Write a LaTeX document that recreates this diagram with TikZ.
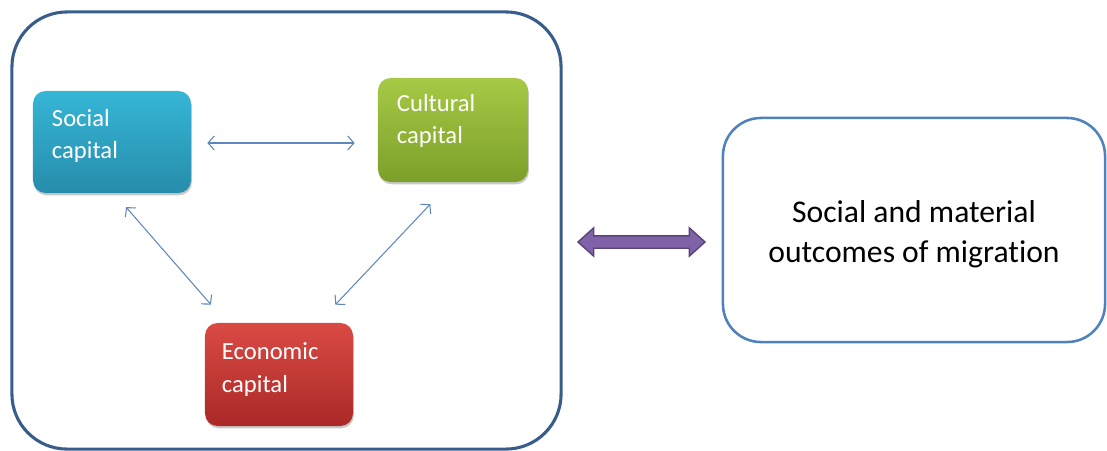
\documentclass[tikz,border=0pt]{standalone}
\usepackage{fontspec}
\setmainfont[Ligatures=NoCommon]{Carlito}
\usetikzlibrary{calc,shadows,shapes.arrows,arrows.meta}
\definecolor{framecol}{HTML}{385D8A}
\definecolor{outcol}{HTML}{4F81BD}
\definecolor{linkcol}{HTML}{5E87BB}
\definecolor{purplefill}{HTML}{7F62A8}
\definecolor{purpleline}{HTML}{5A4478}
\definecolor{socialtop}{HTML}{36B6D6}
\definecolor{socialbot}{HTML}{278CAB}
\definecolor{culturetop}{HTML}{A6C946}
\definecolor{culturebot}{HTML}{7C9F2A}
\definecolor{econtop}{HTML}{DA4A44}
\definecolor{econbot}{HTML}{AA2927}
\tikzset{
  capbox/.style={rounded corners=9pt,inner sep=0pt,
    drop shadow={shadow xshift=0.6pt,shadow yshift=-1.6pt,opacity=0.3,fill=black!70}},
  captext/.style={anchor=north west,inner sep=0pt,align=left,text=white,
    font=\fontsize{17.5}{23}\selectfont},
  link/.style={draw=linkcol,line width=0.75pt,
    {Straight Barb[length=4.5pt,width=10pt]}-{Straight Barb[length=4.5pt,width=10pt]}}
}

\begin{document}
\begin{tikzpicture}[x=0.025cm,y=-0.025cm]
      \useasboundingbox (0,0) rectangle (1107,450);

      \node[draw=framecol,line width=2.2pt,rounded corners=1.375cm,
        minimum width=13.725cm,minimum height=10.925cm] (frame) at (286.5,230.5) {};

      \node[capbox,top color=socialtop,bottom color=socialbot,
        minimum width=3.95cm,minimum height=2.55cm] (social) at (112,142) {};
      \node[capbox,top color=culturetop,bottom color=culturebot,
        minimum width=3.75cm,minimum height=2.6cm] (cultural) at (453,130) {};
      \node[capbox,top color=econtop,bottom color=econbot,
        minimum width=3.7cm,minimum height=2.575cm] (economic) at (279,374.5) {};

      \node[captext] (social-t) at ($(social.north west)+(19,18)$) {Social\\capital};
      \node[captext] (cultural-t) at ($(cultural.north west)+(19,16)$) {Cultural\\capital};
      \node[captext] (economic-t) at ($(economic.north west)+(17,20)$) {Economic\\capital};

      \draw[link,shorten <=0.4cm,shorten >=0.575cm] (social.east |- 0,143) -- (cultural.west |- 0,143);
      \draw[link,shorten <=0.46cm,shorten >=0.6cm] ($(social.south)+(2,0)$) -- ($(economic.north west)+(22,0)$);
      \draw[link,shorten <=0.75cm,shorten >=0.62cm] ($(cultural.south)+(-2,0)$) -- ($(economic.north east)+(-35,0)$);

      \node[draw=outcol,line width=1.8pt,rounded corners=0.95cm,
        minimum width=9.55cm,minimum height=5.6cm,align=center,
        font=\fontsize{22.5}{28.5}\selectfont] (outcome) at (914,230)
        {\rule{0pt}{21pt}Social and material\\outcomes of migration};

      \node[double arrow,draw=purpleline,fill=purplefill,line width=1pt,
        inner xsep=0pt,inner ysep=0.1375cm,
        minimum height=3.175cm,
        double arrow head extend=0.2cm,double arrow tip angle=84] (bond) at (641.5,242) {};
    \end{tikzpicture}
\end{document}
